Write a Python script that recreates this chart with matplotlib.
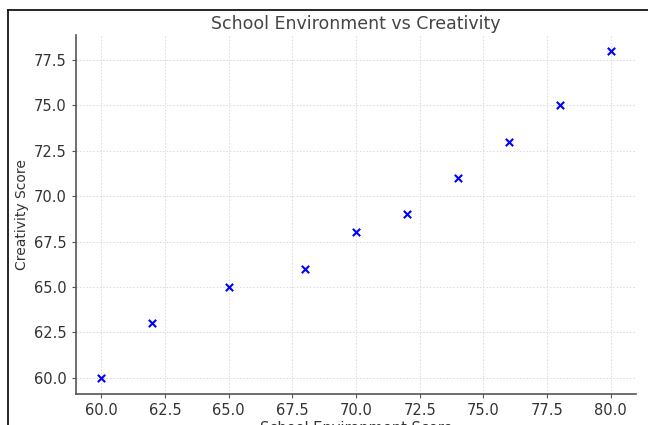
import matplotlib
matplotlib.use("Agg")
import matplotlib.pyplot as plt
from matplotlib.lines import Line2D

school_env = [60, 62, 65, 68, 70, 72, 74, 76, 78, 80]
creativity = [60, 63, 65, 66, 68, 69, 71, 73, 75, 78]

TEXT = "#333333"
SPINE = "#555555"

plt.rcParams.update({
    "font.family": "DejaVu Sans",
    "font.size": 10,
    "text.color": TEXT,
    "axes.labelcolor": TEXT,
    "xtick.color": SPINE,
    "ytick.color": SPINE,
    "xtick.labelcolor": TEXT,
    "ytick.labelcolor": TEXT,
    "xtick.labelsize": 10.5,
    "ytick.labelsize": 10.5,
})

fig = plt.figure(figsize=(6.48, 4.25), dpi=100)
ax = fig.add_axes([0.1173, 0.0729, 0.8642, 0.8457])

ax.scatter(school_env, creativity, marker="x", color="blue", s=28, linewidths=1.5, zorder=3)

ax.set_title("School Environment vs Creativity", fontsize=12.5, pad=4, color="#444444")
ax.set_xlabel("School Environment Score", fontsize=10.5, labelpad=2)
ax.set_ylabel("Creativity Score", fontsize=10, labelpad=4)

ax.grid(True, linestyle="--", linewidth=0.6, color="#d8d8d8", dashes=(2, 2), zorder=0)
ax.set_axisbelow(True)
ax.spines["top"].set_visible(False)
ax.spines["right"].set_visible(False)
for s in ("left", "bottom"):
    ax.spines[s].set_color(SPINE)
    ax.spines[s].set_linewidth(1.2)
ax.tick_params(length=3, width=0.8)

# screenshot frame (top and left edges)
fig.add_artist(Line2D([8 / 648, 1], [1 - 10 / 425, 1 - 10 / 425], color="black", lw=1.2,
                      transform=fig.transFigure))
fig.add_artist(Line2D([8 / 648, 8 / 648], [0, 1 - 10 / 425], color="black", lw=1.2,
                      transform=fig.transFigure))

fig.savefig("out.png", dpi=100)
